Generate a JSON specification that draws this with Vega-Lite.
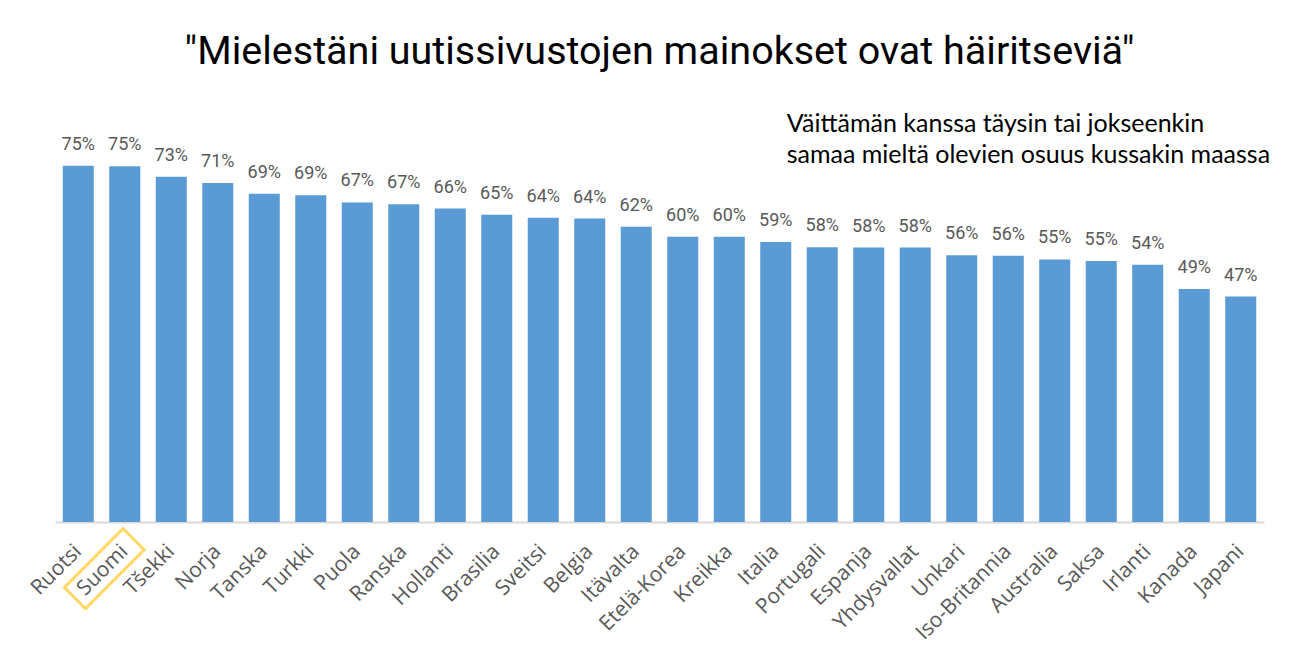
{
  "$schema": "https://vega.github.io/schema/vega-lite/v6.json",
  "width": 1209,
  "height": 428,
  "autosize": {"type": "none"},
  "padding": {"left": 55, "top": 94, "right": 29, "bottom": 124},
  "background": "white",
  "config": {"view": {"stroke": null}},
  "title": {
    "text": "\"Mielestäni uutissivustojen mainokset ovat häiritseviä\"",
    "anchor": "middle",
    "frame": "group",
    "font": "Roboto",
    "fontSize": 39.5,
    "fontWeight": "normal",
    "color": "#000000",
    "baseline": "alphabetic",
    "offset": -9
  },
  "data": {
    "values": [
      {"maa": "Ruotsi", "osuus": 0.749},
      {"maa": "Suomi", "osuus": 0.748},
      {"maa": "Tšekki", "osuus": 0.726},
      {"maa": "Norja", "osuus": 0.713},
      {"maa": "Tanska", "osuus": 0.69},
      {"maa": "Turkki", "osuus": 0.687},
      {"maa": "Puola", "osuus": 0.672},
      {"maa": "Ranska", "osuus": 0.668},
      {"maa": "Hollanti", "osuus": 0.659},
      {"maa": "Brasilia", "osuus": 0.646},
      {"maa": "Sveitsi", "osuus": 0.64},
      {"maa": "Belgia", "osuus": 0.638},
      {"maa": "Itävalta", "osuus": 0.621},
      {"maa": "Etelä-Korea", "osuus": 0.6},
      {"maa": "Kreikka", "osuus": 0.6},
      {"maa": "Italia", "osuus": 0.589},
      {"maa": "Portugali", "osuus": 0.578},
      {"maa": "Espanja", "osuus": 0.577},
      {"maa": "Yhdysvallat", "osuus": 0.577},
      {"maa": "Unkari", "osuus": 0.561},
      {"maa": "Iso-Britannia", "osuus": 0.56},
      {"maa": "Australia", "osuus": 0.552},
      {"maa": "Saksa", "osuus": 0.549},
      {"maa": "Irlanti", "osuus": 0.541},
      {"maa": "Kanada", "osuus": 0.49},
      {"maa": "Japani", "osuus": 0.474}
    ]
  },
  "encoding": {
    "x": {
      "field": "maa",
      "type": "nominal",
      "sort": null,
      "scale": {"paddingInner": 0.333, "paddingOuter": 0.167},
      "axis": {
        "title": null,
        "labelAngle": -45,
        "labelAlign": "right",
        "labelBaseline": "middle",
        "ticks": false,
        "labelPadding": 26,
        "labelFont": "Open Sans",
        "labelFontSize": 21,
        "labelColor": "#595959",
        "labelOverlap": false,
        "labelLimit": 0,
        "domainColor": "#D9D9D9",
        "domainWidth": 2,
        "grid": false
      }
    },
    "y": {
      "field": "osuus",
      "type": "quantitative",
      "scale": {"domain": [0, 0.9]},
      "axis": null
    }
  },
  "layer": [
    {
      "mark": {"type": "bar", "color": "#5B9BD5"}
    },
    {
      "mark": {
        "type": "text",
        "baseline": "alphabetic",
        "dy": -16,
        "font": "Roboto",
        "fontSize": 18,
        "color": "#595959"
      },
      "encoding": {
        "text": {"field": "osuus", "type": "quantitative", "format": ".0%"}
      }
    },
    {
      "transform": [{"filter": "datum.maa === 'Suomi'"}],
      "mark": {
        "type": "point",
        "shape": "M-1,-0.36L1,-0.36L1,0.36L-1,0.36Z",
        "size": 6889,
        "angle": -45,
        "filled": false,
        "stroke": "#FFD966",
        "strokeWidth": 3,
        "opacity": 1,
        "xOffset": -20.5
      },
      "encoding": {
        "y": {"datum": -0.098}
      }
    },
    {
      "transform": [{"filter": "datum.maa === 'Italia'"}],
      "mark": {
        "type": "text",
        "text": ["Väittämän kanssa täysin tai jokseenkin", "samaa mieltä olevien osuus kussakin maassa"],
        "align": "left",
        "baseline": "alphabetic",
        "font": "Lato",
        "fontSize": 25,
        "lineHeight": 31,
        "color": "#000000",
        "xOffset": 11
      },
      "encoding": {
        "y": {"datum": 0.821}
      }
    }
  ]
}
